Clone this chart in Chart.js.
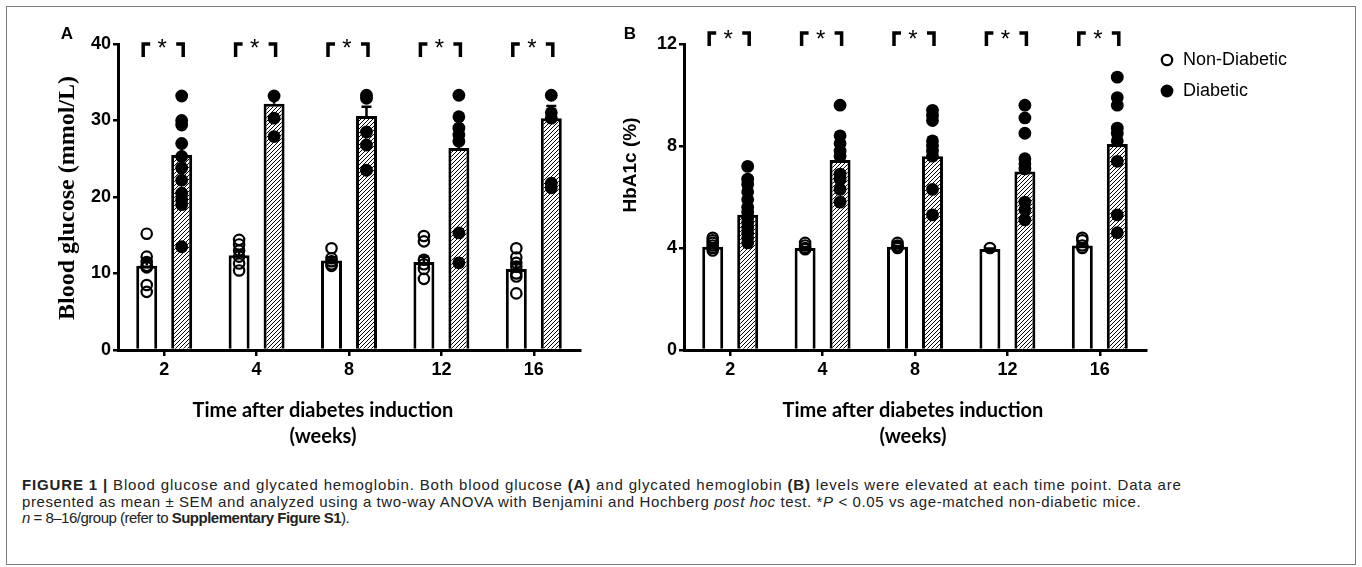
<!DOCTYPE html>
<html>
<head>
<meta charset="utf-8">
<script src="https://cdn.jsdelivr.net/npm/chart.js@4.4.1/dist/chart.umd.min.js"></script>
<style>
html,body{margin:0;padding:0;background:#fff;}
body{width:1362px;height:567px;position:relative;overflow:hidden;font-family:"Liberation Sans",Arial,sans-serif;}
#frame{position:absolute;left:6px;top:6px;width:1350px;height:559px;border:1px solid #7a7a7a;box-sizing:border-box;}
#cA{position:absolute;left:0;top:0;}
#cB{position:absolute;left:600px;top:0;}
#caption{position:absolute;left:22px;top:477px;font-size:15px;line-height:16.5px;color:#222;white-space:nowrap;}
#caption span{display:block;}
#caption b{font-weight:bold;}
</style>
</head>
<body>
<div id="frame"></div>
<canvas id="cA" width="600" height="460"></canvas>
<canvas id="cB" width="762" height="460"></canvas>
<div id="caption"><span style="letter-spacing:0.85px"><b>FIGURE 1 |</b> Blood glucose and glycated hemoglobin. Both blood glucose <b>(A)</b> and glycated hemoglobin <b>(B)</b> levels were elevated at each time point. Data are</span><span style="letter-spacing:0.6px">presented as mean ± SEM and analyzed using a two-way ANOVA with Benjamini and Hochberg <i>post hoc</i> test. *<i>P</i> &lt; 0.05 vs age-matched non-diabetic mice.</span><span style="letter-spacing:-0.5px"><i>n</i> = 8–16/group (refer to <b>Supplementary Figure S1</b>).</span></div>
<script>
// ---------- DATA ----------
const weeks = ['2', '4', '8', '12', '16'];
const seriesNames = ['Non-Diabetic', 'Diabetic'];

// Panel A: blood glucose (mmol/L)
const glucoseTicks = [0, 10, 20, 30, 40];
const glucoseNonDiabeticMean = [11.0, 12.4, 11.7, 11.5, 10.6];
const glucoseDiabeticMean = [25.5, 32.2, 30.6, 26.4, 30.3];
const glucoseNonDiabeticSem = [0.9, 0.6, 0.4, 0.7, 0.6];
const glucoseDiabeticSem = [1.4, 0.9, 1.2, 2.8, 1.6];
const glucoseNonDiabeticPoints = [
  [15.2, 12.2, 11.5, 11.0, 10.8, 8.5, 7.6],
  [14.4, 13.8, 13.0, 12.2, 11.3, 10.4],
  [13.3, 12.0, 11.6, 11.2, 11.0],
  [14.9, 14.2, 11.8, 11.2, 10.6, 9.3],
  [13.3, 12.1, 11.4, 10.9, 10.0, 9.6, 7.4]
];
const glucoseDiabeticPoints = [
  [33.2, 30.0, 29.4, 27.0, 25.3, 23.8, 22.2, 20.5, 19.6, 19.0, 13.5],
  [33.2, 30.3, 27.9],
  [33.3, 32.9, 28.5, 26.8, 23.5],
  [33.3, 30.5, 29.0, 28.1, 27.3, 15.3, 11.4],
  [33.3, 31.0, 30.3, 21.8, 21.2]
];

// Panel B: HbA1c (%)
const hba1cTicks = [0, 4, 8, 12];
const hba1cNonDiabeticMean = [4.05, 4.0, 4.05, 3.96, 4.1];
const hba1cDiabeticMean = [5.3, 7.45, 7.6, 7.0, 8.08];
const hba1cNonDiabeticSem = [0.05, 0.03, 0.03, 0.02, 0.05];
const hba1cDiabeticSem = [0.25, 0.4, 0.45, 0.5, 0.7];
const hba1cNonDiabeticPoints = [
  [4.4, 4.3, 4.2, 4.1, 4.0, 3.9],
  [4.2, 4.1, 4.0, 3.95],
  [4.2, 4.1, 4.05, 4.0],
  [4.0],
  [4.4, 4.3, 4.1, 4.0]
];
const hba1cDiabeticPoints = [
  [7.2, 6.7, 6.5, 6.2, 5.9, 5.6, 5.4, 5.2, 5.0, 4.8, 4.6, 4.4, 4.2],
  [9.6, 8.4, 8.1, 7.8, 7.6, 6.9, 6.7, 6.3, 5.8],
  [9.4, 9.2, 9.0, 8.2, 8.0, 7.8, 7.6, 6.3, 5.3],
  [9.6, 9.1, 8.5, 7.5, 7.3, 7.1, 5.8, 5.5, 5.1],
  [10.7, 9.9, 9.6, 8.7, 8.5, 8.2, 7.4, 5.3, 4.6]
];

// ---------- RENDERING ----------
function hatchPattern() {
  const s = 4;
  const c = document.createElement('canvas');
  c.width = s; c.height = s;
  const g = c.getContext('2d');
  g.fillStyle = '#fff'; g.fillRect(0, 0, s, s);
  g.strokeStyle = '#000'; g.lineWidth = 1;
  g.beginPath();
  g.moveTo(-1, s + 1); g.lineTo(s + 1, -1);
  g.moveTo(-1, 1); g.lineTo(1, -1);
  g.moveTo(s - 1, s + 1); g.lineTo(s + 1, s - 1);
  g.stroke();
  return g.createPattern(c, 'repeat');
}

const tickFont = {family: '"Liberation Sans", Arial, sans-serif', weight: 'bold', size: 18};

function makePanel(id, p) {
  const annot = {
    id: 'annot_' + id,
    afterDatasetsDraw(chart) {
      const ctx = chart.ctx, ys = chart.scales.y;
      ctx.save();
      [p.ndSem, p.dSem].forEach((sem, di) => {
        const meta = chart.getDatasetMeta(di);
        const means = chart.data.datasets[di].data;
        ctx.strokeStyle = '#000'; ctx.lineWidth = 2.5;
        meta.data.forEach((bar, i) => {
          const yT = ys.getPixelForValue(means[i] + sem[i]);
          const yM = ys.getPixelForValue(means[i]);
          ctx.beginPath();
          ctx.moveTo(bar.x, yM); ctx.lineTo(bar.x, yT);
          ctx.moveTo(bar.x - 5, yT); ctx.lineTo(bar.x + 5, yT);
          ctx.stroke();
        });
      });
      [p.ndPts, p.dPts].forEach((pts, di) => {
        const meta = chart.getDatasetMeta(di);
        meta.data.forEach((bar, i) => {
          pts[i].forEach(v => {
            const py = ys.getPixelForValue(v);
            ctx.beginPath();
            if (di === 0) {
              ctx.arc(bar.x, py, 5.2, 0, Math.PI * 2);
              ctx.lineWidth = 2.2; ctx.strokeStyle = '#000'; ctx.stroke();
            } else {
              ctx.arc(bar.x, py, 6.4, 0, Math.PI * 2);
              ctx.fillStyle = '#000'; ctx.fill();
            }
          });
        });
      });
      ctx.restore();
    },
    afterDraw(chart) {
      const ctx = chart.ctx, xs = chart.scales.x, area = chart.chartArea;
      ctx.save();
      ctx.fillStyle = '#000'; ctx.strokeStyle = '#000';
      // significance brackets
      weeks.forEach((w, i) => {
        const cx = xs.getPixelForValue(i);
        const yT = area.top + p.brTop, yB = yT + 13;
        ctx.lineWidth = 3.5; ctx.lineCap = 'butt'; ctx.lineJoin = 'miter';
        ctx.beginPath();
        ctx.moveTo(cx - 21, yB); ctx.lineTo(cx - 21, yT); ctx.lineTo(cx - 14, yT);
        ctx.moveTo(cx + 12, yT); ctx.lineTo(cx + 19, yT); ctx.lineTo(cx + 19, yB);
        ctx.stroke();
        ctx.font = '24px "Liberation Sans", Arial, sans-serif';
        ctx.textAlign = 'center'; ctx.textBaseline = 'alphabetic';
        ctx.fillText('*', cx - 2, area.top + p.starBase);
      });
      // panel letter
      ctx.font = 'bold 17px "Liberation Sans", Arial, sans-serif';
      ctx.textAlign = 'center'; ctx.textBaseline = 'middle';
      ctx.fillText(p.letter, p.letterX, 34);
      // y title
      ctx.save();
      ctx.translate(p.yTitleX, p.yTitleY);
      ctx.rotate(-Math.PI / 2);
      ctx.font = p.yTitleFont;
      ctx.fillText(p.yTitle, 0, 0);
      ctx.restore();
      // x title
      ctx.font = 'bold 20px Lato, "Open Sans", sans-serif';
      ctx.fillText('Time after diabetes induction', p.xTitleX, 411);
      ctx.fillText('(weeks)', p.xTitleX, 437);
      // legend
      if (p.legend) {
        const lx = p.legend.x;
        ctx.beginPath(); ctx.arc(lx, 60, 5.2, 0, Math.PI * 2);
        ctx.lineWidth = 2.2; ctx.stroke();
        ctx.beginPath(); ctx.arc(lx, 91, 6.4, 0, Math.PI * 2); ctx.fill();
        ctx.font = '18px "Liberation Sans", Arial, sans-serif';
        ctx.textAlign = 'left';
        ctx.fillText(seriesNames[0], lx + 16, 60);
        ctx.fillText(seriesNames[1], lx + 16, 91);
      }
      ctx.restore();
    }
  };

  return new Chart(document.getElementById(id), {
    type: 'bar',
    data: {
      labels: weeks,
      datasets: [
        {label: seriesNames[0], data: p.ndMean, backgroundColor: '#fff', borderColor: '#000',
         borderWidth: 3, borderSkipped: 'bottom', categoryPercentage: 0.757, barPercentage: 0.6},
        {label: seriesNames[1], data: p.dMean, backgroundColor: hatchPattern(), borderColor: '#000',
         borderWidth: 3, borderSkipped: 'bottom', categoryPercentage: 0.757, barPercentage: 0.6}
      ]
    },
    options: {
      responsive: false, animation: false, devicePixelRatio: 1,
      layout: {padding: {top: 44, left: 0, right: p.padRight, bottom: 0}},
      plugins: {legend: {display: false}, tooltip: {enabled: false}},
      scales: {
        x: {
          offset: true,
          grid: {display: true, offset: false, drawOnChartArea: false, drawTicks: true, tickLength: 6,
                 color: '#000', lineWidth: 2.5},
          border: {display: true, color: '#000', width: 3},
          ticks: {color: '#000', font: tickFont, padding: 3, maxRotation: 0},
          afterFit(s) { s.height = 110; }
        },
        y: {
          min: 0, max: p.ticks[p.ticks.length - 1],
          afterBuildTicks(s) { s.ticks = p.ticks.map(v => ({value: v})); },
          grid: {display: true, drawOnChartArea: false, drawTicks: true, tickLength: 5,
                 color: '#000', lineWidth: 2.5},
          border: {display: true, color: '#000', width: 3},
          ticks: {color: '#000', font: tickFont, padding: 2},
          afterFit(s) { s.width = p.yWidth; }
        }
      }
    },
    plugins: [annot]
  });
}

makePanel('cA', {
  ndMean: glucoseNonDiabeticMean, dMean: glucoseDiabeticMean,
  ndSem: glucoseNonDiabeticSem, dSem: glucoseDiabeticSem,
  ndPts: glucoseNonDiabeticPoints, dPts: glucoseDiabeticPoints,
  ticks: glucoseTicks, yWidth: 118, padRight: 20,
  brTop: 0, starBase: 12,
  letter: 'A', letterX: 67,
  yTitle: 'Blood glucose (mmol/L)', yTitleX: 68, yTitleY: 198,
  yTitleFont: 'bold 24px "Liberation Serif", "Times New Roman", serif',
  xTitleX: 323
});

makePanel('cB', {
  ndMean: hba1cNonDiabeticMean, dMean: hba1cDiabeticMean,
  ndSem: hba1cNonDiabeticSem, dSem: hba1cDiabeticSem,
  ndPts: hba1cNonDiabeticPoints, dPts: hba1cDiabeticPoints,
  ticks: hba1cTicks, yWidth: 84, padRight: 216,
  brTop: -11, starBase: 3,
  letter: 'B', letterX: 30,
  yTitle: 'HbA1c (%)', yTitleX: 31, yTitleY: 165,
  yTitleFont: 'bold 19px "Liberation Sans", Arial, sans-serif',
  xTitleX: 313,
  legend: {x: 567}
});
</script>
</body>
</html>
